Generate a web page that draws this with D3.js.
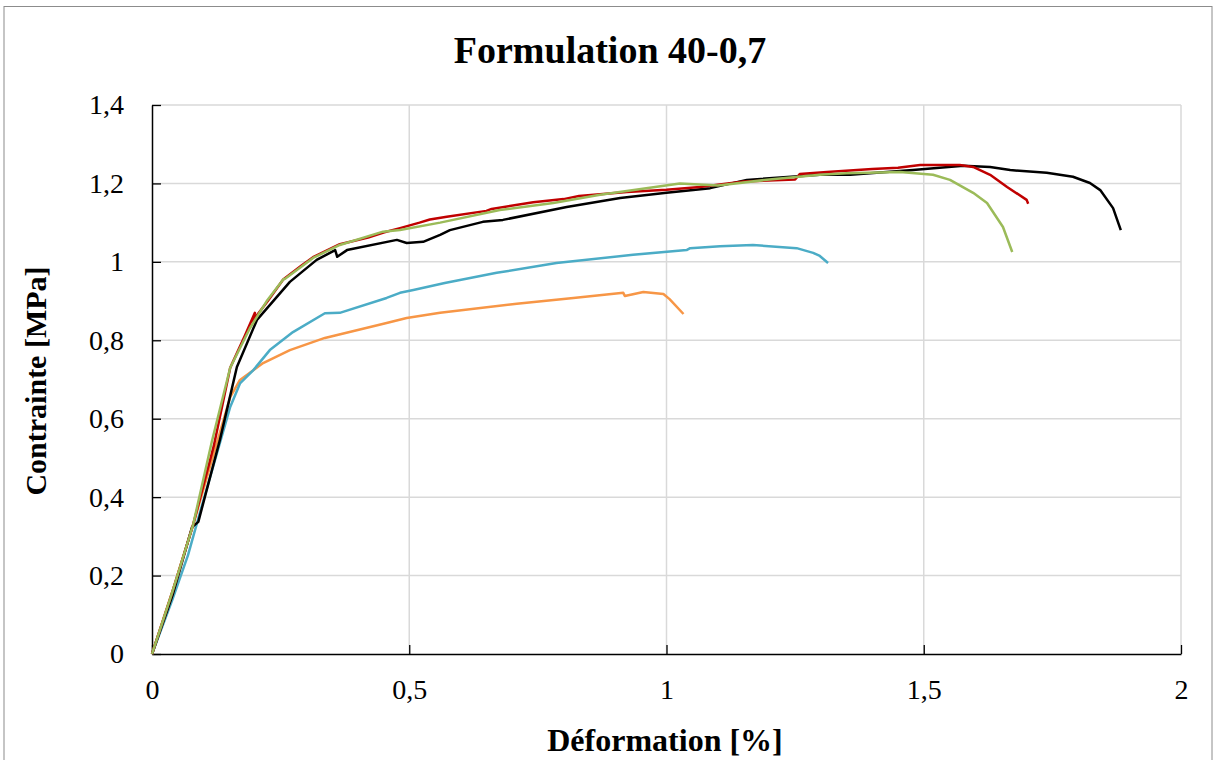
<!DOCTYPE html>
<html><head><meta charset="utf-8">
<script src="https://cdn.jsdelivr.net/npm/d3@7"></script>
<style>body{margin:0;background:#fff}svg{display:block}</style>
</head><body>
<script>
const title = "Formulation 40-0,7";
const xTitle = "Déformation [%]";
const yTitle = "Contrainte [MPa]";
const xTicks = [0, 0.5, 1, 1.5, 2];
const xTickLabels = ["0", "0,5", "1", "1,5", "2"];
const yTicks = [0, 0.2, 0.4, 0.6, 0.8, 1, 1.2, 1.4];
const yTickLabels = ["0", "0,2", "0,4", "0,6", "0,8", "1", "1,2", "1,4"];

const seriesNames = ["red", "green", "black", "blue", "orange"];
const redX = [0,0.04,0.08,0.12,0.152,0.18,0.2,0.196,0.225,0.255,0.29,0.313,0.365,0.42,0.45,0.482,0.52,0.54,0.573,0.65,0.66,0.741,0.8,0.83,0.923,1.0,1.065,1.15,1.25,1.259,1.312,1.4,1.45,1.493,1.57,1.596,1.629,1.662,1.70,1.703];
const redY = [0,0.16,0.33,0.53,0.73,0.81,0.87,0.85,0.90,0.955,0.99,1.012,1.045,1.062,1.075,1.086,1.10,1.108,1.115,1.13,1.135,1.152,1.16,1.168,1.178,1.184,1.191,1.205,1.21,1.224,1.229,1.237,1.24,1.247,1.247,1.242,1.222,1.191,1.158,1.148];
const greenX = [0,0.04,0.08,0.116,0.152,0.19,0.223,0.255,0.26,0.313,0.365,0.449,0.482,0.56,0.676,0.78,0.871,0.94,1.026,1.1,1.2,1.298,1.35,1.454,1.518,1.551,1.596,1.623,1.654,1.672];
const greenY = [0,0.16,0.33,0.54,0.73,0.83,0.90,0.955,0.958,1.01,1.043,1.077,1.081,1.10,1.132,1.15,1.171,1.184,1.20,1.195,1.21,1.222,1.226,1.229,1.222,1.209,1.176,1.150,1.089,1.025];
const blackX = [0,0.04,0.078,0.09,0.132,0.165,0.204,0.268,0.32,0.356,0.36,0.379,0.476,0.495,0.527,0.56,0.579,0.643,0.682,0.806,0.91,1.0,1.085,1.156,1.298,1.357,1.479,1.577,1.629,1.668,1.739,1.79,1.823,1.843,1.868,1.883];
const blackY = [0,0.15,0.324,0.337,0.546,0.732,0.852,0.949,1.005,1.030,1.013,1.030,1.056,1.048,1.051,1.069,1.081,1.102,1.107,1.14,1.163,1.176,1.188,1.209,1.222,1.222,1.234,1.245,1.242,1.234,1.227,1.217,1.201,1.183,1.137,1.081];
const blueX = [0,0.04,0.07,0.093,0.132,0.152,0.171,0.197,0.229,0.274,0.336,0.365,0.456,0.482,0.508,0.569,0.67,0.786,0.935,1.039,1.046,1.104,1.168,1.253,1.285,1.298,1.314];
const blueY = [0,0.14,0.252,0.36,0.538,0.63,0.69,0.724,0.775,0.821,0.869,0.87,0.908,0.921,0.928,0.946,0.972,0.997,1.018,1.030,1.035,1.04,1.043,1.035,1.023,1.015,0.997];
const orangeX = [0,0.04,0.08,0.126,0.152,0.171,0.216,0.268,0.336,0.456,0.495,0.56,0.709,0.819,0.916,0.919,0.955,0.994,1.006,1.033];
const orangeY = [0,0.16,0.33,0.538,0.655,0.699,0.742,0.775,0.806,0.844,0.857,0.870,0.893,0.908,0.921,0.913,0.923,0.918,0.905,0.867];

const W = 1217, H = 760;
const svg = d3.select("body").append("svg").attr("width", W).attr("height", H);
svg.append("rect").attr("x", 4).attr("y", 6.5).attr("width", 1208).attr("height", 800)
  .attr("fill", "#fff").attr("stroke", "#8c8c8c").attr("stroke-width", 1);

const x = d3.scaleLinear().domain([0, 2]).range([152, 1181]);
const y = d3.scaleLinear().domain([0, 1.4]).range([654, 105]);
const font = "'Liberation Serif', 'Times New Roman', serif";

// gridlines
svg.append("g").selectAll("line").data(yTicks.slice(1)).join("line")
  .attr("x1", x(0)).attr("x2", x(2)).attr("y1", d => y(d)).attr("y2", d => y(d))
  .attr("stroke", "#d9d9d9").attr("stroke-width", 1.5);
svg.append("g").selectAll("line").data(xTicks.slice(1)).join("line")
  .attr("x1", d => x(d)).attr("x2", d => x(d)).attr("y1", y(0)).attr("y2", y(1.4))
  .attr("stroke", "#d9d9d9").attr("stroke-width", 1.5);

// axes
const xAxis = d3.axisBottom(x).tickValues(xTicks).tickSizeInner(-9).tickSizeOuter(0)
  .tickFormat((d, i) => xTickLabels[i]).tickPadding(25);
const gx = svg.append("g").attr("transform", `translate(0,${y(0)})`).call(xAxis);
const yAxis = d3.axisLeft(y).tickValues(yTicks).tickSizeInner(-9).tickSizeOuter(0)
  .tickFormat((d, i) => yTickLabels[i]).tickPadding(28);
const gy = svg.append("g").attr("transform", `translate(${x(0)},0)`).call(yAxis);
[gx, gy].forEach(g => {
  g.select(".domain").attr("stroke", "#000").attr("stroke-width", 1.5);
  g.selectAll(".tick line").attr("stroke", "#000").attr("stroke-width", 1.3);
  g.selectAll("text").attr("font-family", font).attr("font-size", 28).attr("fill", "#000");
});

// series
const line = d3.line().x(d => x(d[0])).y(d => y(d[1]));
const series = [
  {xs: orangeX, ys: orangeY, c: "#f79646"},
  {xs: blueX, ys: blueY, c: "#4bacc6"},
  {xs: blackX, ys: blackY, c: "#000000"},
  {xs: redX, ys: redY, c: "#c00000"},
  {xs: greenX, ys: greenY, c: "#9bbb59"}
];
series.forEach(s => {
  svg.append("path").datum(s.xs.map((v, i) => [v, s.ys[i]]))
    .attr("d", line).attr("fill", "none").attr("stroke", s.c)
    .attr("stroke-width", 2.5).attr("stroke-linejoin", "round");
});

// titles
svg.append("text").attr("x", 610).attr("y", 63).attr("text-anchor", "middle")
  .attr("font-family", font).attr("font-weight", "bold").attr("font-size", 38).text(title);
svg.append("text").attr("x", 665).attr("y", 751).attr("text-anchor", "middle")
  .attr("font-family", font).attr("font-weight", "bold").attr("font-size", 32).text(xTitle);
svg.append("text").attr("transform", "translate(46,381) rotate(-90)").attr("text-anchor", "middle")
  .attr("font-family", font).attr("font-weight", "bold").attr("font-size", 30).text(yTitle);
</script>
</body></html>
